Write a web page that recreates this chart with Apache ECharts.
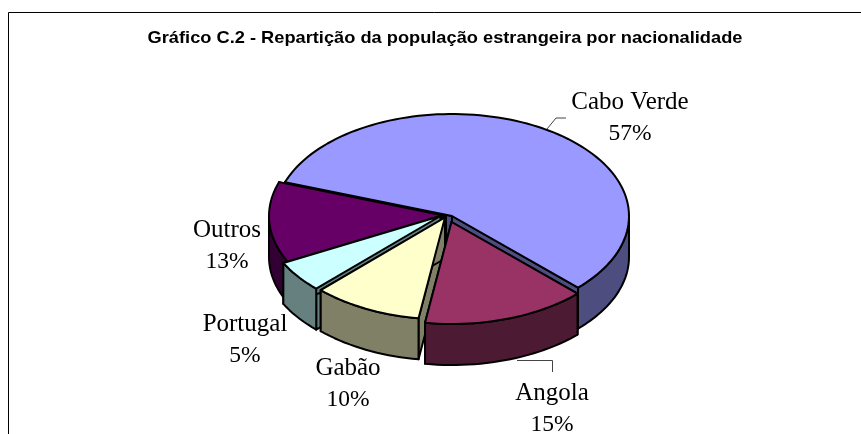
<!DOCTYPE html>
<html>
<head>
<meta charset="utf-8">
<style>html,body{margin:0;padding:0;background:#fff}#c{width:861px;height:434px}</style>
<script src="https://cdn.jsdelivr.net/npm/echarts@6/dist/echarts.min.js"></script>
</head>
<body>
<div id="c"></div>
<script>
var categories = ['Cabo Verde', 'Angola', 'Gabão', 'Portugal', 'Outros'];
var shares = [57, 15, 10, 5, 13];
var topColors = ['#9999ff', '#993366', '#ffffcc', '#ccffff', '#660066'];
var sideColors = ['#4d4d80', '#4d1a33', '#808066', '#668080', '#330033'];
// painter's order (back to front) and per-slice explosion centre
var paintRank = [0, 4, 3, 2, 1];
var sliceCentres = [[452, 216], [451.5, 222], [445, 217.5], [440.5, 216], [446, 216]];
var labelCentres = [[630, 118], [552, 409], [348, 384], [245, 340], [227, 246]];
var startAngle = 199.4, radiusX = 177, radiusY = 102, depth = 41;

var total = shares.reduce(function (a, b) { return a + b; }, 0);
var starts = [], acc = startAngle;
shares.forEach(function (v) { starts.push(acc); acc += v / total * 360; });

function rim(c, a, b, dy) {
  var pts = [], n = Math.max(2, Math.ceil(Math.abs(b - a) / 2));
  for (var i = 0; i <= n; i++) {
    var t = (a + (b - a) * i / n) * Math.PI / 180;
    pts.push([c[0] + radiusX * Math.cos(t), c[1] + radiusY * Math.sin(t) + dy]);
  }
  return pts;
}
function poly(points, fill, z2) {
  return { type: 'polygon', z2: z2, shape: { points: points },
    style: { fill: fill, stroke: '#000', lineWidth: 2, lineJoin: 'round' } };
}
function label(text, x, y, font) {
  return { type: 'text', z2: 100, x: x, y: y,
    style: { text: text, x: 0, y: 0, align: 'center', verticalAlign: 'middle', fill: '#000', font: font } };
}
function renderSlice(params) {
  var i = params.dataIndex, c = sliceCentres[i], a = starts[i], b = a + shares[i] / total * 360;
  var z = paintRank[i] * 10, kids = [];
  [a, b].forEach(function (ang) {
    var e = rim(c, ang, ang, 0)[0];
    kids.push(poly([c, e, [e[0], e[1] + depth], [c[0], c[1] + depth]], sideColors[i], z + 1));
  });
  // outer wall: only the front half of the ellipse is visible
  for (var k = 0; k <= 360; k += 360) {
    var lo = Math.max(a, k), hi = Math.min(b, k + 180);
    if (hi > lo) {
      kids.push(poly(rim(c, lo, hi, 0).concat(rim(c, hi, lo, depth)), sideColors[i], z + 2));
    }
  }
  kids.push(poly([c].concat(rim(c, a, b, 0)), topColors[i], z + 3));
  kids.push(label(categories[i], labelCentres[i][0], labelCentres[i][1] - 16, '25px "Liberation Serif"'));
  kids.push(label(shares[i] + '%', labelCentres[i][0], labelCentres[i][1] + 16, '23.5px "Liberation Serif"'));
  return { type: 'group', children: kids };
}

var chart = echarts.init(document.getElementById('c'), null, { renderer: 'canvas' });
chart.setOption({
  animation: false,
  backgroundColor: '#fff',
  graphic: [
    { type: 'polyline', shape: { points: [[8.5, 434], [8.5, 12.5], [861, 12.5]] }, style: { stroke: '#000', lineWidth: 1, fill: null } },
    { type: 'polyline', shape: { points: [[547, 129], [556, 118], [566, 118]] }, style: { stroke: '#444', lineWidth: 1, fill: null } },
    { type: 'polyline', shape: { points: [[517, 360.5], [552.5, 360.5], [552.5, 372]] }, style: { stroke: '#444', lineWidth: 1, fill: null } },
    { type: 'text', x: 445, y: 39, scaleX: 1.12,
      style: { text: 'Gráfico C.2 - Repartição da população estrangeira por nacionalidade', x: 0, y: 0,
        align: 'center', verticalAlign: 'middle', fill: '#000', font: 'bold 16.3px "Liberation Sans"' } }
  ],
  series: [{
    type: 'custom', coordinateSystem: 'none', silent: true,
    renderItem: renderSlice,
    data: shares.map(function (v, i) { return { name: categories[i], value: v }; })
  }]
});
</script>
</body>
</html>
